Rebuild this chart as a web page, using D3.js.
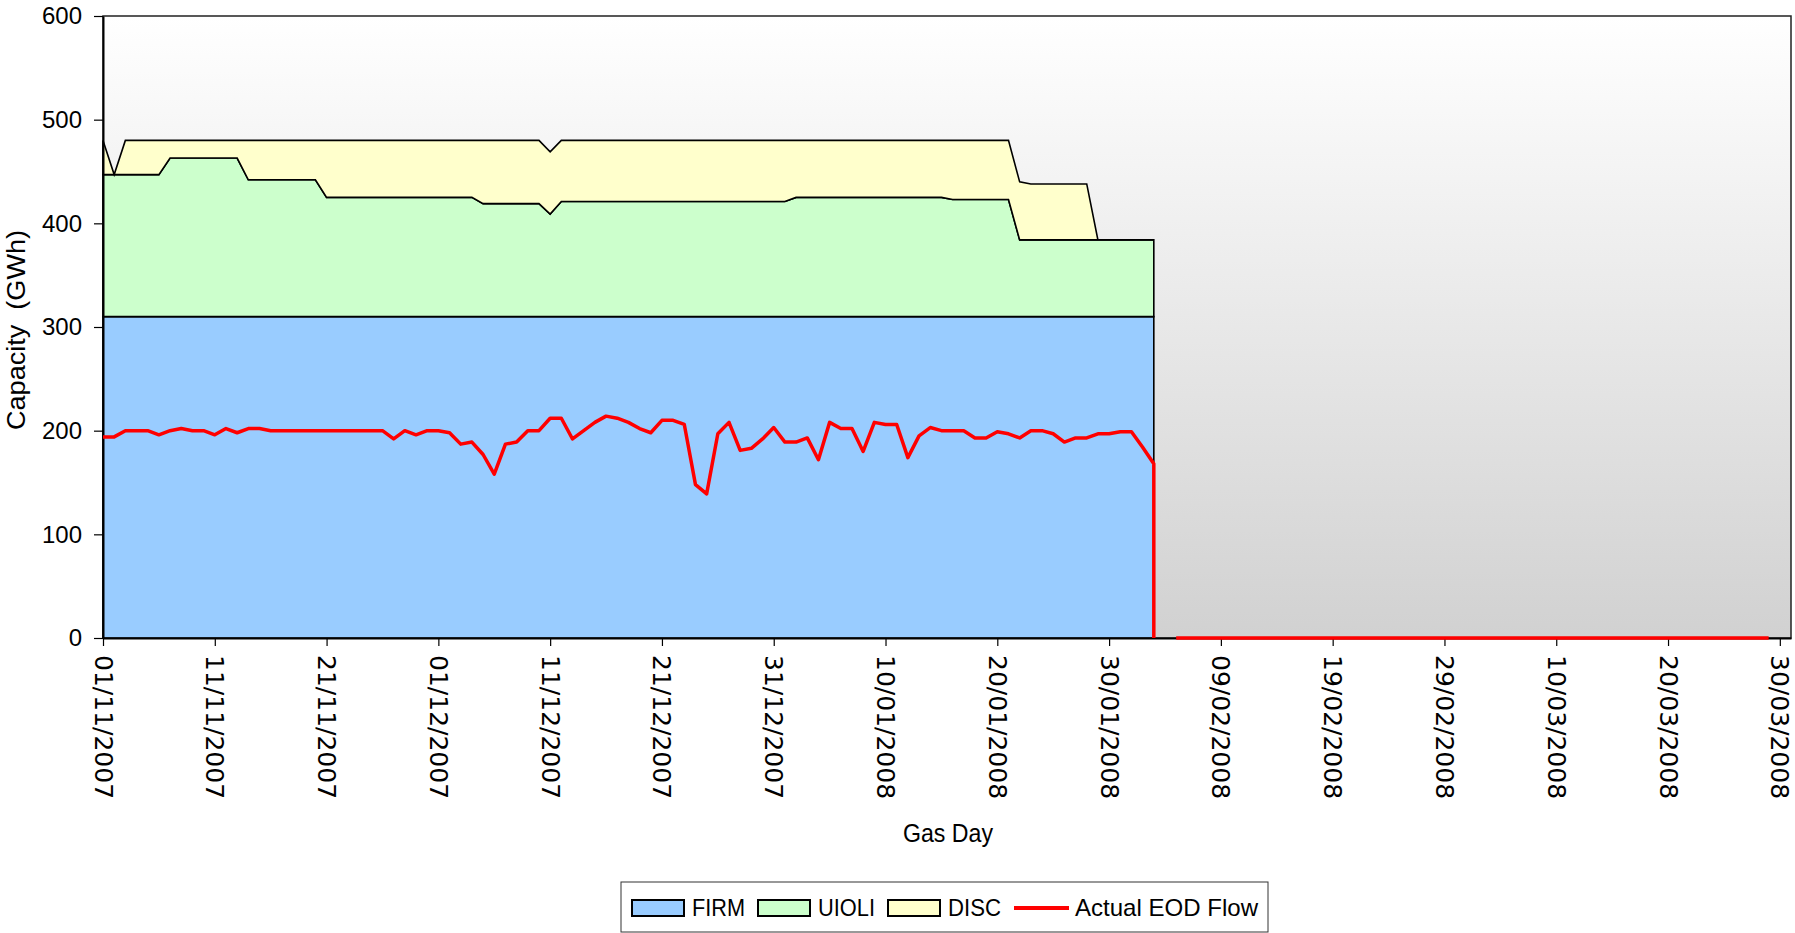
<!DOCTYPE html>
<html>
<head>
<meta charset="utf-8">
<script src="https://cdn.jsdelivr.net/npm/d3@7"></script>
<style>
  body { margin: 0; background: #fff; }
  .narrow { font-family: "Liberation Sans", Arial, sans-serif; fill: #000; }
</style>
</head>
<body>
<svg id="chart" width="1795" height="933"></svg>
<script>

// gas days 01/11/2007 .. 31/03/2008
var firstDay = "01/11/2007",
    lastDay = "31/03/2008";

var xTickLabels = ["01/11/2007", "11/11/2007", "21/11/2007", "01/12/2007", "11/12/2007", "21/12/2007",
  "31/12/2007", "10/01/2008", "20/01/2008", "30/01/2008", "09/02/2008", "19/02/2008",
  "29/02/2008", "10/03/2008", "20/03/2008", "30/03/2008"];

var yTicks = [0, 100, 200, 300, 400, 500, 600];

// capacity series, one value per gas day from 01/11/2007 to 03/02/2008 (95 days)
var firm = [
  310, 310, 310, 310, 310, 310, 310, 310, 310, 310, 310, 310, 310, 310, 310, 310, 310, 310, 310, 310,
  310, 310, 310, 310, 310, 310, 310, 310, 310, 310, 310, 310, 310, 310, 310, 310, 310, 310, 310, 310,
  310, 310, 310, 310, 310, 310, 310, 310, 310, 310, 310, 310, 310, 310, 310, 310, 310, 310, 310, 310,
  310, 310, 310, 310, 310, 310, 310, 310, 310, 310, 310, 310, 310, 310, 310, 310, 310, 310, 310, 310,
  310, 310, 310, 310, 310, 310, 310, 310, 310, 310, 310, 310, 310, 310, 310];

var uioli = [
  137, 137, 137, 137, 137, 137, 153, 153, 153, 153, 153, 153, 153, 132, 132, 132, 132, 132, 132, 132,
  115, 115, 115, 115, 115, 115, 115, 115, 115, 115, 115, 115, 115, 115, 109, 109, 109, 109, 109, 109,
  99, 111, 111, 111, 111, 111, 111, 111, 111, 111, 111, 111, 111, 111, 111, 111, 111, 111, 111, 111,
  111, 111, 115, 115, 115, 115, 115, 115, 115, 115, 115, 115, 115, 115, 115, 115, 113, 113, 113, 113,
  113, 113, 74, 74, 74, 74, 74, 74, 74, 74, 74, 74, 74, 74, 74];

var disc = [
  33, 0, 33, 33, 33, 33, 17, 17, 17, 17, 17, 17, 17, 38, 38, 38, 38, 38, 38, 38,
  55, 55, 55, 55, 55, 55, 55, 55, 55, 55, 55, 55, 55, 55, 61, 61, 61, 61, 61, 61,
  60, 59, 59, 59, 59, 59, 59, 59, 59, 59, 59, 59, 59, 59, 59, 59, 59, 59, 59, 59,
  59, 59, 55, 55, 55, 55, 55, 55, 55, 55, 55, 55, 55, 55, 55, 55, 57, 57, 57, 57,
  57, 57, 56, 54, 54, 54, 54, 54, 54, 0, 0, 0, 0, 0, 0];

// actual end of day flow, 01/11/2007 .. 03/02/2008
var flow = [
  194, 194, 200, 200, 200, 196, 200, 202, 200, 200, 196, 202, 198, 202, 202, 200, 200, 200, 200, 200,
  200, 200, 200, 200, 200, 200, 192, 200, 196, 200, 200, 198, 187, 189, 177, 158, 187, 189, 200, 200,
  212, 212, 192, 200, 208, 214, 212, 208, 202, 198, 210, 210, 206, 148, 139, 197, 208, 181, 183, 192,
  203, 189, 189, 193, 172, 208, 202, 202, 180, 208, 206, 206, 174, 195, 203, 200, 200, 200, 193, 193,
  199, 197, 193, 200, 200, 197, 189, 193, 193, 197, 197, 199, 199, 184, 168];

// second reading on 03/02/2008, nothing on 04/02, then 05/02/2008 .. 31/03/2008
var flowTail = [
  0, null,
  0, 0, 0, 0, 0, 0, 0, 0, 0, 0, 0, 0, 0, 0, 0, 0, 0, 0, 0, 0, 0, 0, 0, 0, 0, 0, 0, 0,
  0, 0, 0, 0, 0, 0, 0, 0, 0, 0, 0, 0, 0, 0, 0, 0, 0, 0, 0, 0, 0, 0, 0, 0, 0, 0];

var seriesNames = ["FIRM", "UIOLI", "DISC"];
var seriesColors = ["#99ccff", "#ccffcc", "#ffffcc"];
var flowName = "Actual EOD Flow";

//###############################################
// setup
//###############################################
var parseDay = d3.utcParse("%d/%m/%Y");
var day0 = parseDay(firstDay);
var dayAt = function(i) { return d3.utcDay.offset(day0, i); };

var svg = d3.select("#chart");
var margin = { left: 103, right: 1791, top: 16, bottom: 638 };

var x = d3.scaleUtc()
  .domain([day0, parseDay(lastDay)])
  .range([margin.left, margin.right]);

var y = d3.scaleLinear()
  .domain([0, 600])
  .range([margin.bottom, margin.top]);

// squeeze text to the width it has in the original (narrow font)
function squeeze(sel, width) {
  sel.attr("textLength", width).attr("lengthAdjust", "spacingAndGlyphs");
}

// plot background gradient
var defs = svg.append("defs");
var grad = defs.append("linearGradient")
  .attr("id", "bg").attr("x1", 0).attr("y1", 0).attr("x2", 0).attr("y2", 1);
grad.append("stop").attr("offset", "0%").attr("stop-color", "#ffffff");
grad.append("stop").attr("offset", "100%").attr("stop-color", "#d1d1d1");

svg.append("rect")
  .attr("x", margin.left).attr("y", margin.top)
  .attr("width", margin.right - margin.left)
  .attr("height", margin.bottom - margin.top)
  .attr("fill", "url(#bg)")
  .attr("stroke", "#222")
  .attr("stroke-width", 1.5);

//###############################################
// stacked capacity
//###############################################
var rows = firm.map(function(v, i) {
  return { date: dayAt(i), FIRM: v, UIOLI: uioli[i], DISC: disc[i] };
});

var stack = d3.stack().keys(seriesNames);
var layers = stack(rows);

var area = d3.area()
  .x(function(d) { return x(d.data.date); })
  .y0(function(d) { return y(d[0]); })
  .y1(function(d) { return y(d[1]); });

svg.append("g").attr("id", "areas")
  .selectAll("path")
  .data(layers)
  .enter().append("path")
    .attr("d", area)
    .attr("fill", function(d, i) { return seriesColors[i]; })
    .attr("stroke", "#000")
    .attr("stroke-width", 1.6)
    .attr("stroke-linejoin", "miter");

//###############################################
// axes
//###############################################
var yAxis = svg.append("g")
  .attr("transform", "translate(" + margin.left + ",0)")
  .call(d3.axisLeft(y).tickValues(yTicks).tickSize(9).tickSizeOuter(0).tickPadding(12));

yAxis.selectAll("text")
  .attr("class", "narrow")
  .style("font-size", "24px");

var xAxis = svg.append("g")
  .attr("transform", "translate(0," + margin.bottom + ")")
  .call(d3.axisBottom(x)
    .tickValues(xTickLabels.map(parseDay))
    .tickFormat(d3.utcFormat("%d/%m/%Y"))
    .tickSize(8).tickSizeOuter(0));

xAxis.selectAll("text")
  .attr("transform", "rotate(90)")
  .attr("x", 17)
  .attr("y", 0)
  .attr("dy", "0.36em")
  .style("text-anchor", "start")
  .style("font-family", "'DejaVu Sans', Verdana, sans-serif")
  .style("font-size", "25px")
  .attr("fill", "#000");

svg.selectAll(".domain").attr("stroke", "#000").attr("stroke-width", 2);
svg.selectAll(".tick line").attr("stroke", "#000").attr("stroke-width", 1.2);

// titles
svg.append("text")
  .attr("class", "narrow")
  .attr("x", 948)
  .attr("y", 842)
  .attr("text-anchor", "middle")
  .style("font-size", "25px")
  .text("Gas Day")
  .call(squeeze, 90);

svg.append("text")
  .attr("class", "narrow")
  .attr("transform", "translate(25,330) rotate(-90)")
  .attr("text-anchor", "middle")
  .style("font-size", "25px")
  .style("white-space", "pre")
  .text("Capacity  (GWh)")
  .call(squeeze, 200);

//###############################################
// flow line
//###############################################
var flowPoints = flow.map(function(v, i) { return { date: dayAt(i), v: v }; })
  .concat(flowTail.map(function(v, i) { return { date: dayAt(flow.length - 1 + i), v: v }; }));

var line = d3.line()
  .defined(function(d) { return d.v !== null; })
  .x(function(d) { return x(d.date); })
  .y(function(d) { return y(d.v); });

svg.append("path")
  .datum(flowPoints)
  .attr("d", line)
  .attr("fill", "none")
  .attr("stroke", "#ff0000")
  .attr("stroke-width", 3.5)
  .attr("stroke-linejoin", "round");

//###############################################
// legend
//###############################################
var legendWidths = [53, 57, 53, 183];   // text widths in the original
var legend = svg.append("g").attr("transform", "translate(621,882)");
var box = legend.append("rect")
  .attr("x", 0).attr("y", 0).attr("height", 50)
  .attr("fill", "#fff").attr("stroke", "#333").attr("stroke-width", 1);

var lx = 11;
seriesNames.concat([flowName]).forEach(function(name, i) {
  if (i < 3) {
    legend.append("rect")
      .attr("x", lx).attr("y", 18).attr("width", 52).attr("height", 16)
      .attr("fill", seriesColors[i]).attr("stroke", "#000").attr("stroke-width", 2);
    lx += 60;
  } else {
    legend.append("line")
      .attr("x1", lx).attr("x2", lx + 55).attr("y1", 26).attr("y2", 26)
      .attr("stroke", "#ff0000").attr("stroke-width", 4);
    lx += 61;
  }
  legend.append("text")
    .attr("class", "narrow")
    .attr("x", lx).attr("y", 34)
    .style("font-size", "24px")
    .text(name)
    .call(squeeze, legendWidths[i]);
  lx += legendWidths[i] + 13;
});
box.attr("width", lx - 3);

</script>
</body>
</html>
